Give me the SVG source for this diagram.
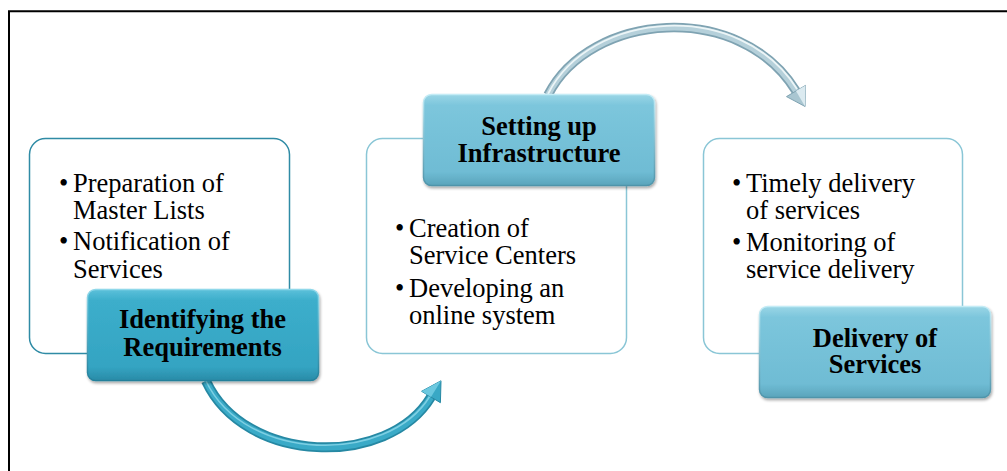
<svg xmlns="http://www.w3.org/2000/svg" width="1007" height="471" viewBox="0 0 1007 471">
<defs>
<style>
.bul{font-family:"Liberation Serif","Times New Roman",serif;font-size:26.5px;fill:#000}
.lbl{font-family:"Liberation Serif","Times New Roman",serif;font-size:26.5px;font-weight:bold;fill:#000;text-anchor:middle}
.wbox1{fill:#fff;stroke:#2f8ba5;stroke-width:1.5}
.wbox2{fill:#fff;stroke:#8ac6d6;stroke-width:1.5}
</style>
<linearGradient id="gDark" x1="0" y1="0" x2="0" y2="1">
<stop offset="0" stop-color="#5cc0da"/><stop offset="0.12" stop-color="#3caecb"/><stop offset="0.85" stop-color="#34a4c2"/><stop offset="1" stop-color="#2a8ba7"/>
</linearGradient>
<linearGradient id="gLight" x1="0" y1="0" x2="0" y2="1">
<stop offset="0" stop-color="#9ad6e6"/><stop offset="0.12" stop-color="#7cc6dc"/><stop offset="0.85" stop-color="#6fbcd4"/><stop offset="1" stop-color="#5aa4bb"/>
</linearGradient>
<linearGradient id="sDark" x1="0" y1="0" x2="0" y2="1">
<stop offset="0" stop-color="#8fd8ea"/><stop offset="1" stop-color="#23809b"/>
</linearGradient>
<linearGradient id="sLight" x1="0" y1="0" x2="0" y2="1">
<stop offset="0" stop-color="#c4ecf6"/><stop offset="1" stop-color="#4f94aa"/>
</linearGradient>
<filter id="sh" x="-10%" y="-10%" width="120%" height="130%">
<feGaussianBlur in="SourceAlpha" stdDeviation="1.5"/>
<feOffset dx="1" dy="2" result="b"/>
<feComponentTransfer><feFuncA type="linear" slope="0.35"/></feComponentTransfer>
<feMerge><feMergeNode/><feMergeNode in="SourceGraphic"/></feMerge>
</filter>
</defs>
<rect width="1007" height="471" fill="#fff"/>
<path d="M9,471 V11.3 H1007" fill="none" stroke="#000" stroke-width="2"/>

<g id="connectors">
<g id="arrow1">
<path d="M206,381 C245,465 388,468 431,397" fill="none" stroke="#2688a3" stroke-width="10"/>
<path d="M206,381 C245,465 388,468 431,397" fill="none" stroke="#3aaac7" stroke-width="6.5"/>
<path d="M206,381 C245,463 388,465 430,396" fill="none" stroke="#8fd8ea" stroke-width="1.6" opacity="0.8"/>
<polygon points="421.6,391.3 441,380.8 440.4,402.7" fill="#39a8c5" stroke="#2688a3" stroke-width="1"/>
<polygon points="421.6,391.3 441,380.8 431,397" fill="#6cc8df"/>
</g>
<g id="arrow2">
<path d="M548,95 C590,12 740,0 796,91" fill="none" stroke="#7fa3b2" stroke-width="9.5"/>
<path d="M548,95 C590,12 740,0 796,91" fill="none" stroke="#b5d0da" stroke-width="6"/>
<path d="M548,94 C590,10 740,-2 797,89" fill="none" stroke="#f2f8fa" stroke-width="1.8" opacity="0.9"/>
<polygon points="786.5,96.6 805.5,85.4 805.1,106.5" fill="#a9c6d1" stroke="#7fa3b2" stroke-width="1"/>
<polygon points="805.5,85.4 805.1,106.5 796,91" fill="#dbeaf0"/>
</g>
</g>

<g id="node1">
<rect class="wbox1" x="29.5" y="138.5" width="260" height="215" rx="16"/>
<text class="bul"><tspan x="59" y="192">•</tspan><tspan x="73" y="192">Preparation of</tspan><tspan x="73" y="219">Master Lists</tspan><tspan x="59" y="250">•</tspan><tspan x="73" y="250">Notification of</tspan><tspan x="73" y="278">Services</tspan></text>
<rect x="87.5" y="289.5" width="231" height="91" rx="8" fill="url(#gDark)" stroke="url(#sDark)" stroke-width="1.5" filter="url(#sh)"/>
<text class="lbl"><tspan x="202.5" y="328">Identifying the</tspan><tspan x="202.5" y="356">Requirements</tspan></text>
</g>

<g id="node2">
<rect class="wbox2" x="366.5" y="138.5" width="260" height="215" rx="16"/>
<text class="bul"><tspan x="395" y="237">•</tspan><tspan x="409" y="237">Creation of</tspan><tspan x="409" y="264">Service Centers</tspan><tspan x="395" y="297">•</tspan><tspan x="409" y="297">Developing an</tspan><tspan x="409" y="324">online system</tspan></text>
<rect x="423.5" y="94.5" width="231" height="91" rx="8" fill="url(#gLight)" stroke="url(#sLight)" stroke-width="1.5" filter="url(#sh)"/>
<text class="lbl"><tspan x="539" y="135">Setting up</tspan><tspan x="539" y="162">Infrastructure</tspan></text>
</g>

<g id="node3">
<rect class="wbox2" x="703.5" y="138.5" width="259" height="215" rx="16"/>
<text class="bul"><tspan x="732" y="192">•</tspan><tspan x="746" y="192">Timely delivery</tspan><tspan x="746" y="219">of services</tspan><tspan x="732" y="251">•</tspan><tspan x="746" y="251">Monitoring of</tspan><tspan x="746" y="278">service delivery</tspan></text>
<rect x="759.5" y="306.5" width="231" height="91" rx="8" fill="url(#gLight)" stroke="url(#sLight)" stroke-width="1.5" filter="url(#sh)"/>
<text class="lbl"><tspan x="875" y="347">Delivery of</tspan><tspan x="875" y="373">Services</tspan></text>
</g>
</svg>
